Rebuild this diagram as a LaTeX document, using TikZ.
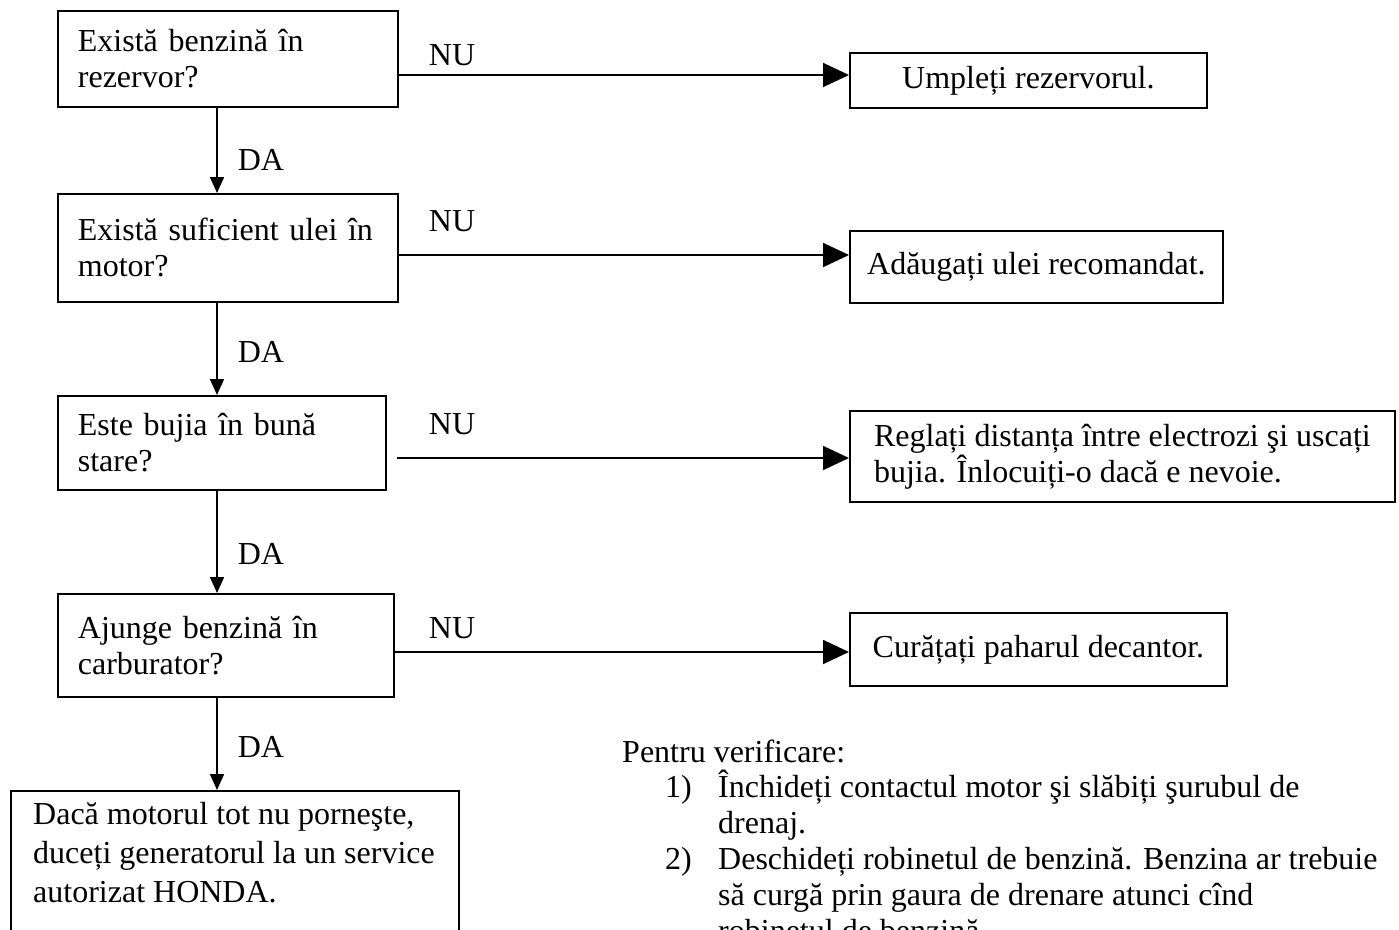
\documentclass[tikz,border=0pt]{standalone}
\usepackage{fontspec}
\setmainfont{Liberation Serif}
\usetikzlibrary{arrows.meta}
\begin{document}
\begin{tikzpicture}[x=1pt,y=-1pt,
  every node/.style={font=\fontsize{32}{36}\selectfont},
  qbox/.style={draw, line width=1.8pt, anchor=north west, inner xsep=20pt, inner ysep=0pt, align=left},
  abox/.style={draw, line width=1.8pt, anchor=north west, inner xsep=0pt, inner ysep=0pt, align=center},
  lbl/.style={inner sep=0pt},
  harrow/.style={line width=1.8pt, -{Triangle[length=26pt,width=24pt]}},
  varrow/.style={line width=1.8pt, -{Triangle[length=16pt,width=14pt]}}]
\useasboundingbox (0,0) rectangle (1399,929);
\clip (0,0) rectangle (1399,929);
% question boxes
\node[qbox, text width=300pt, minimum height=96pt] (b1) at (57,10) {Există benzină în\\rezervor?};
\node[qbox, text width=300pt, minimum height=108pt] (b2) at (57,193) {Există suficient ulei în\\motor?};
\node[qbox, text width=288pt, minimum height=94pt] (b3) at (57,395) {Este bujia în bună\\stare?};
\node[qbox, text width=296pt, minimum height=103pt] (b4) at (57,593) {Ajunge benzină în\\carburator?};
\node[draw, line width=1.8pt, anchor=north west, minimum width=448pt, minimum height=170pt, inner sep=0pt] (b5) at (10,790) {};
\node[lbl, anchor=north west, align=left, font=\fontsize{32}{39}\selectfont] (t5) at (33,802) {Dacă motorul tot nu porneşte,\\duceți generatorul la un service\\autorizat HONDA.};
% answer boxes
\node[abox, minimum width=357pt, minimum height=55pt] (r1) at (849,52) {Umpleți rezervorul.};
\node[abox, minimum width=373pt, minimum height=72pt] (r2) at (849,230) {Adăugați ulei recomandat.};
\node[abox, align=left, minimum width=545pt, minimum height=91pt] (r3) at (849,410) {Reglați distanța între electrozi şi uscați\\bujia. Înlocuiți-o dacă e nevoie.};
\node[abox, minimum width=377pt, minimum height=73pt] (r4) at (849,612) {Curățați paharul decantor.};
% horizontal connectors
\coordinate (s3) at (397,458);
\draw[harrow] (b1.east |- 0,75) -- (r1.west |- 0,75);
\draw[harrow] (b2.east |- 0,255) -- (r2.west |- 0,255);
\draw[harrow] (s3) -- (r3.west |- s3);
\draw[harrow] (b4.east |- 0,652) -- (r4.west |- 0,652);
\node[lbl] (nu1) at (452,55) {NU};
\node[lbl] (nu2) at (452,221) {NU};
\node[lbl] (nu3) at (452,424) {NU};
\node[lbl] (nu4) at (452,628) {NU};
% vertical connectors
\draw[varrow] (b1.south -| 217,0) -- (b2.north -| 217,0);
\draw[varrow] (b2.south -| 217,0) -- (b3.north -| 217,0);
\draw[varrow] (b3.south -| 217,0) -- (b4.north -| 217,0);
\draw[varrow] (b4.south -| 217,0) -- (b5.north -| 217,0);
\node[lbl] (da1) at (261,160) {DA};
\node[lbl] (da2) at (261,352) {DA};
\node[lbl] (da3) at (261,554) {DA};
\node[lbl] (da4) at (261,747) {DA};
% note
\node[lbl, anchor=base west] (p0) at (622,762) {Pentru verificare:};
\node[lbl, anchor=base west] (n1) at (665,797) {1)};
\node[lbl, anchor=base west] (l1) at (718,797) {Închideți contactul motor şi slăbiți şurubul de};
\node[lbl, anchor=base west] (l2) at (718,833) {drenaj.};
\node[lbl, anchor=base west] (n2) at (665,869) {2)};
\node[lbl, anchor=base west] (l3) at (718,869) {Deschideți robinetul de benzină. Benzina ar trebuie};
\node[lbl, anchor=base west] (l4) at (718,905) {să curgă prin gaura de drenare atunci cînd};
\node[lbl, anchor=base west] (l5) at (718,941) {robinetul de benzină};
\end{tikzpicture}
\end{document}
